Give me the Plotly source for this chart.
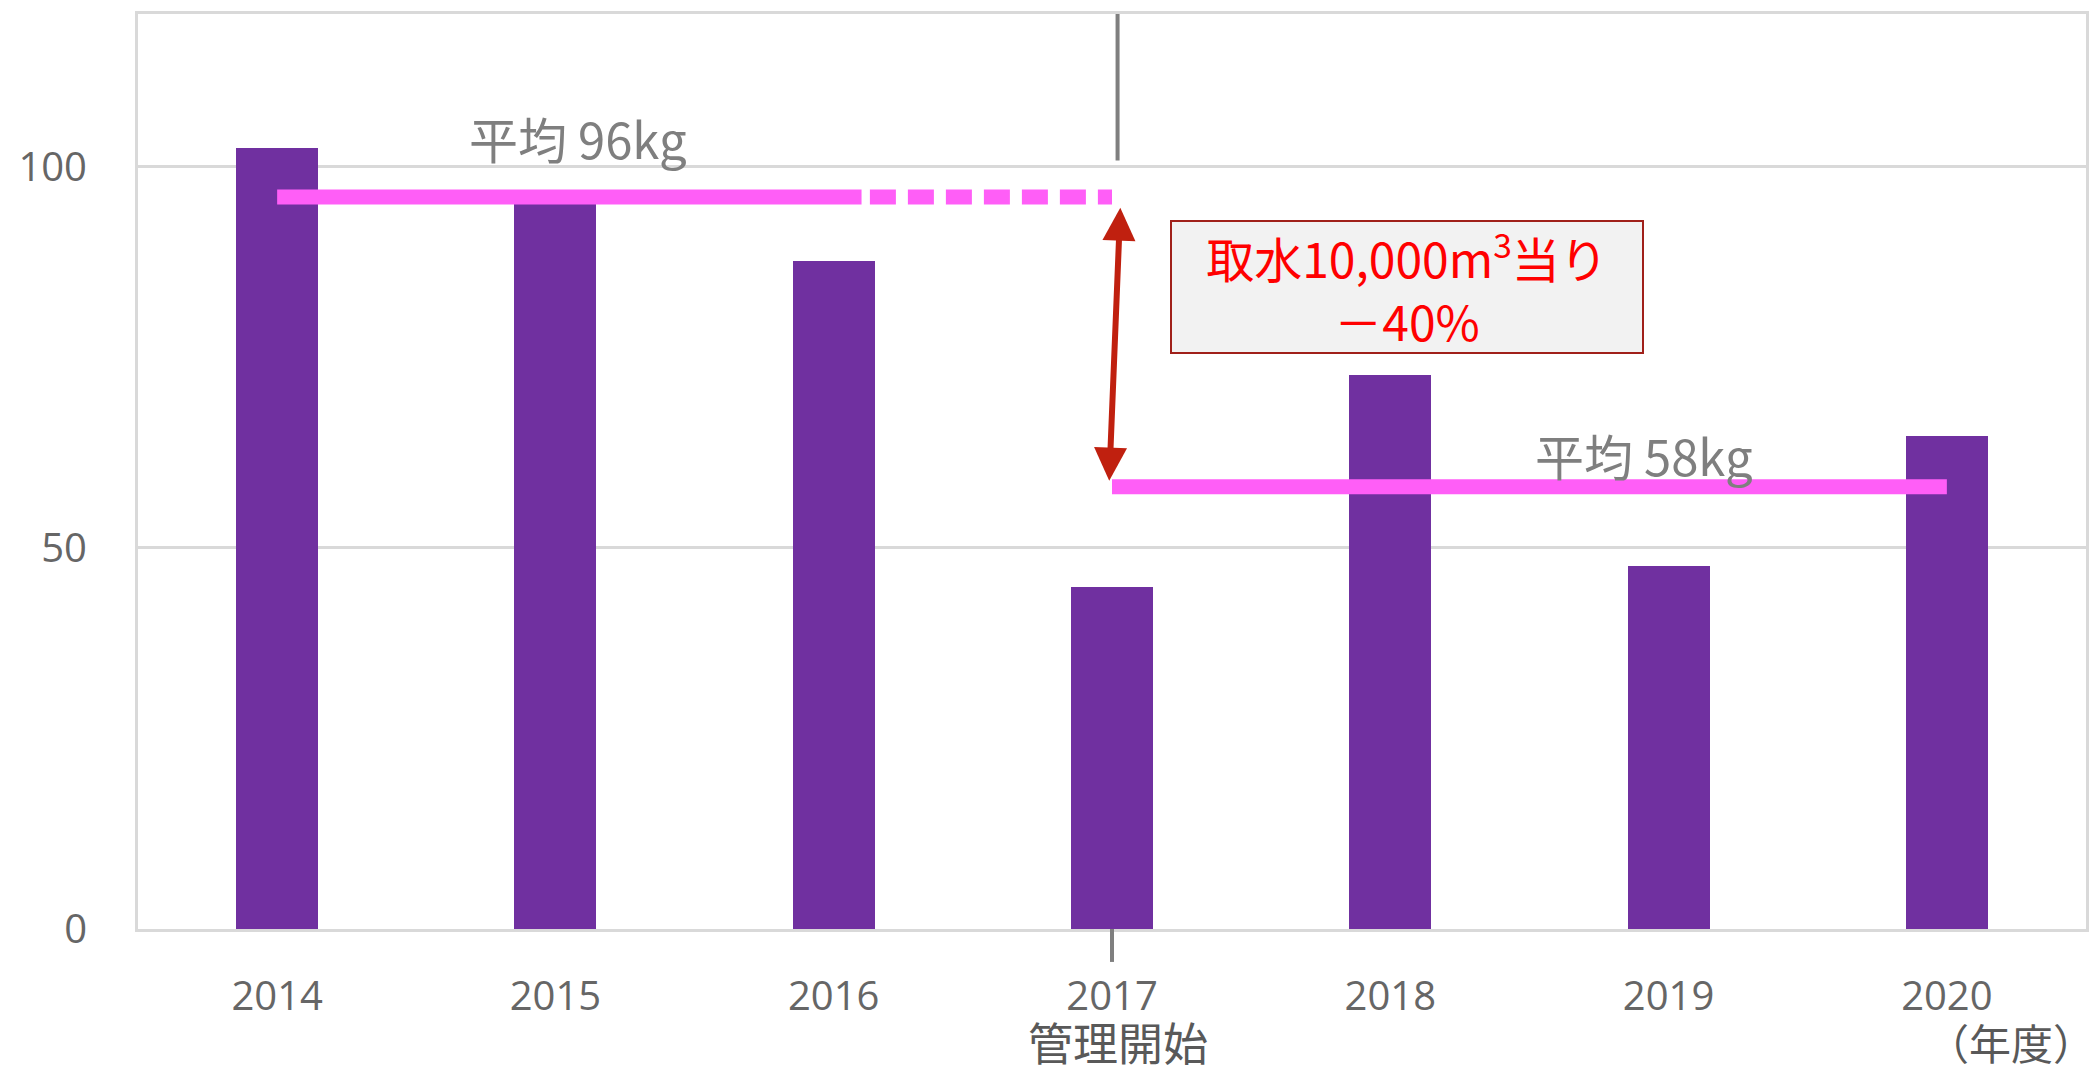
import plotly.graph_objects as go

years = [2014, 2015, 2016, 2017, 2018, 2019, 2020]
values = [102.4, 96.7, 87.6, 44.8, 72.6, 47.6, 64.6]
avg_before = 96
avg_after = 58
y_ticks = [0, 50, 100]

BAR = "#7030A0"
PINK = "#FF5EF7"
GRID = "#D9D9D9"
FONT = "Noto Sans CJK JP"

fig = go.Figure()
fig.add_trace(go.Bar(x=years, y=values, width=0.295, marker=dict(color=BAR, line=dict(width=0)),
                     showlegend=False, hoverinfo="skip"))
# average lines
fig.add_trace(go.Scatter(x=[2014, 2016.1], y=[avg_before, avg_before], mode="lines",
                         line=dict(color=PINK, width=15), showlegend=False, hoverinfo="skip"))
fig.add_trace(go.Scatter(x=[2016.13, 2017], y=[avg_before, avg_before], mode="lines",
                         line=dict(color=PINK, width=15, dash="26px,12px"), showlegend=False, hoverinfo="skip"))
fig.add_trace(go.Scatter(x=[2017, 2020], y=[avg_after, avg_after], mode="lines",
                         line=dict(color=PINK, width=15), showlegend=False, hoverinfo="skip"))

# vertical marker at 2017
fig.add_shape(type="line", xref="x", yref="y", x0=2017.02, x1=2017.02, y0=100.8, y1=120,
              line=dict(color="#7F7F7F", width=4))
fig.add_shape(type="line", xref="x", yref="paper", x0=2017, x1=2017, y0=0, y1=-0.036,
              line=dict(color="#7F7F7F", width=4))

annotations = []
# double arrow
annotations.append(dict(x=2016.99, y=58.8, ax=2017.03, ay=94.8, xref="x", yref="y", axref="x", ayref="y",
                        text="", showarrow=True, arrowhead=2, startarrowhead=2, arrowside="end+start",
                        arrowsize=1.1, startarrowsize=1.1, arrowwidth=6, arrowcolor="#C0200F"))
# box
annotations.append(dict(x=2018.06, y=84.2, xref="x", yref="y",
                        text="取水10,000m<sup>3</sup>当り<br>－40%", showarrow=False,
                        font=dict(family=FONT, size=48, color="#FF0000"),
                        bgcolor="#F2F2F2", bordercolor="#A0201A", borderwidth=2, borderpad=2,
                        width=466, height=126, align="center"))
annotations.append(dict(x=2015.08, y=103.8, xref="x", yref="y", text="平均\u00a096kg", showarrow=False,
                        font=dict(family=FONT, size=49, color="#7F7F7F")))
annotations.append(dict(x=2018.91, y=62.2, xref="x", yref="y", text="平均\u00a058kg", showarrow=False,
                        font=dict(family=FONT, size=49, color="#7F7F7F")))
annotations.append(dict(x=2017.02, y=-0.123, xref="x", yref="paper", text="管理開始", showarrow=False,
                        yanchor="middle", font=dict(family=FONT, size=45, color="#595959")))
annotations.append(dict(x=1.0056, y=-0.123, xref="paper", yref="paper", text="（年度）", showarrow=False,
                        xanchor="right", yanchor="middle", font=dict(family=FONT, size=42, color="#595959")))

fig.update_layout(
    width=2100, height=1073,
    margin=dict(l=138, r=11, t=11, b=144),
    paper_bgcolor="white", plot_bgcolor="white",
    annotations=annotations,
    bargap=0,
)
fig.update_xaxes(range=[2013.5, 2020.5], tickvals=years, ticktext=[str(y) for y in years],
                 tickfont=dict(family="Open Sans", size=40, color="#666666"),
                 showgrid=False, showline=True, linecolor=GRID, linewidth=3, mirror=True,
                 ticks="", ticklabelstandoff=30, zeroline=False)
fig.update_yaxes(range=[0, 120], tickvals=y_ticks, ticktext=[str(v) for v in y_ticks],
                 tickfont=dict(family="Open Sans", size=40, color="#666666"),
                 showgrid=True, gridcolor=GRID, gridwidth=3, showline=True, linecolor=GRID,
                 linewidth=3, mirror=True, ticks="", ticklabelstandoff=40, zeroline=False)

fig.write_html("out.html")
